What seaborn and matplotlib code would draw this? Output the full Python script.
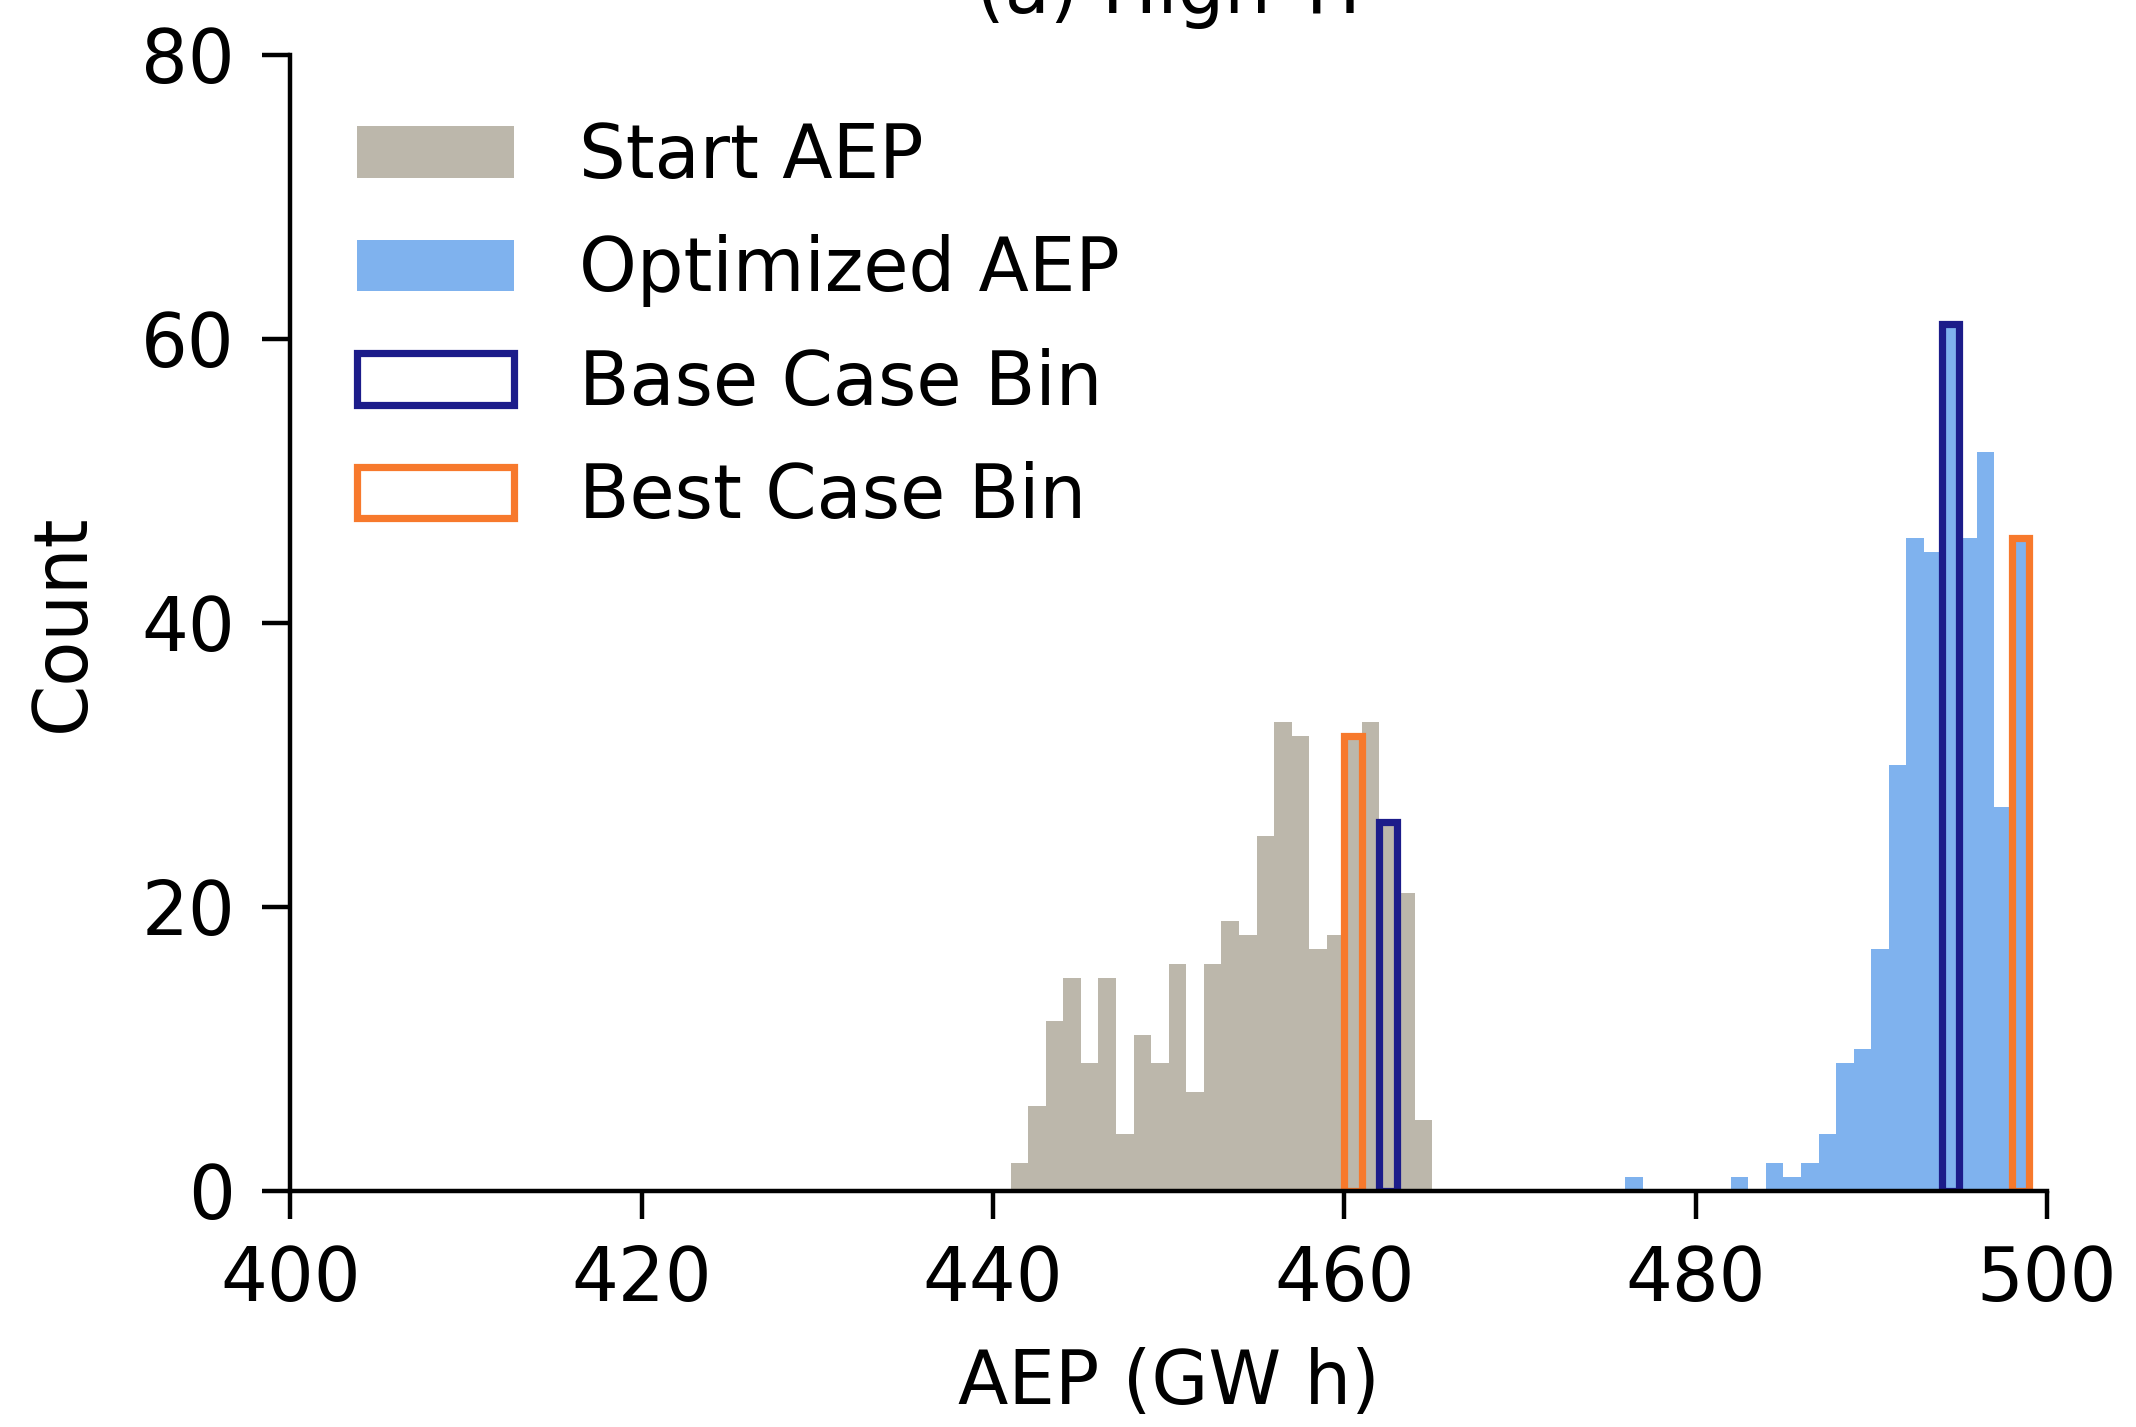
import numpy as np
import pandas as pd
import matplotlib
matplotlib.use("Agg")
import matplotlib.pyplot as plt
from matplotlib.patches import Patch
import seaborn as sns

# ---- data ----
bin_width = 1.0
start_bin_left = [441, 442, 443, 444, 445, 446, 447, 448, 449, 450, 451, 452,
                  453, 454, 455, 456, 457, 458, 459, 460, 461, 462, 463, 464]
start_counts = [2, 6, 12, 15, 9, 15, 4, 11, 9, 16, 7, 16,
                19, 18, 25, 33, 32, 17, 18, 32, 33, 26, 21, 5]

opt_bin_left = [476, 482, 484, 485, 486, 487, 488, 489, 490, 491, 492, 493,
                494, 495, 496, 497, 498]
opt_counts = [1, 1, 2, 1, 2, 4, 9, 10, 17, 30, 46, 45,
              61, 46, 52, 27, 46]

base_case_bin_left = [462, 494]
base_case_counts = [26, 61]
best_case_bin_left = [460, 498]
best_case_counts = [32, 46]

legend_labels = ["Start AEP", "Optimized AEP", "Base Case Bin", "Best Case Bin"]
title = "(a) High TI"
xlabel = "AEP (GW h)"
ylabel = "Count"
xticks = [400, 420, 440, 460, 480, 500]
yticks = [0, 20, 40, 60, 80]

# ---- style ----
sns.set_style("ticks")
plt.rcParams["font.family"] = ["DejaVu Sans"]
FS = 26.5
plt.rcParams.update({
    "font.size": FS,
    "text.color": "black",
    "axes.labelcolor": "black",
    "axes.linewidth": 1.6,
    "xtick.major.width": 1.6,
    "ytick.major.width": 1.6,
    "xtick.major.size": 10,
    "ytick.major.size": 10,
    "xtick.major.pad": 9,
    "ytick.major.pad": 10,
    "xtick.color": "black",
    "ytick.color": "black",
    "axes.edgecolor": "black",
})

start_color = "#bcb7ab"
opt_color = "#7fb2ee"
base_color = "#1c1c8a"
best_color = "#f7792c"
outline_lw = 2.6

fig = plt.figure(figsize=(10.68, 7.135), dpi=200)
ax = fig.add_axes([0.136, 0.1654, 0.9583 - 0.136, 0.9618 - 0.1654])


def centers(lefts):
    return [l + bin_width / 2 for l in lefts]


df_start = pd.DataFrame({"AEP": centers(start_bin_left), "w": start_counts})
df_opt = pd.DataFrame({"AEP": centers(opt_bin_left), "w": opt_counts})

sns.histplot(data=df_start, x="AEP", weights="w", binwidth=bin_width,
             binrange=(400, 500), color=start_color, alpha=1.0, linewidth=0,
             ax=ax)
sns.histplot(data=df_opt, x="AEP", weights="w", binwidth=bin_width,
             binrange=(400, 500), color=opt_color, alpha=1.0, linewidth=0,
             ax=ax)

for lefts, cnts, col in [(base_case_bin_left, base_case_counts, base_color),
                         (best_case_bin_left, best_case_counts, best_color)]:
    for l, c in zip(lefts, cnts):
        d = pd.DataFrame({"AEP": [l + bin_width / 2], "w": [c]})
        sns.histplot(data=d, x="AEP", weights="w", binwidth=bin_width,
                     binrange=(l, l + bin_width), fill=False, color=col,
                     linewidth=outline_lw, ax=ax)

ax.set_xlim(400, 500)
ax.set_ylim(0, 80)
ax.set_xticks(xticks)
ax.set_yticks(yticks)
ax.set_xlabel(xlabel, fontsize=FS, labelpad=11)
ax.set_ylabel(ylabel, fontsize=FS, labelpad=15)
ax.tick_params(labelsize=FS, colors="black")
ax.set_title(title, fontsize=FS, pad=15, color="black")
sns.despine(ax=ax)

handles = [
    Patch(facecolor=start_color, edgecolor="none"),
    Patch(facecolor=opt_color, edgecolor="none"),
    Patch(facecolor="none", edgecolor=base_color, linewidth=outline_lw),
    Patch(facecolor="none", edgecolor=best_color, linewidth=outline_lw),
]
ax.legend(handles, legend_labels, loc="upper left", frameon=False,
          fontsize=FS, labelspacing=0.55, handlelength=2.14,
          handletextpad=0.88)

fig.savefig("out.png", dpi=200)
